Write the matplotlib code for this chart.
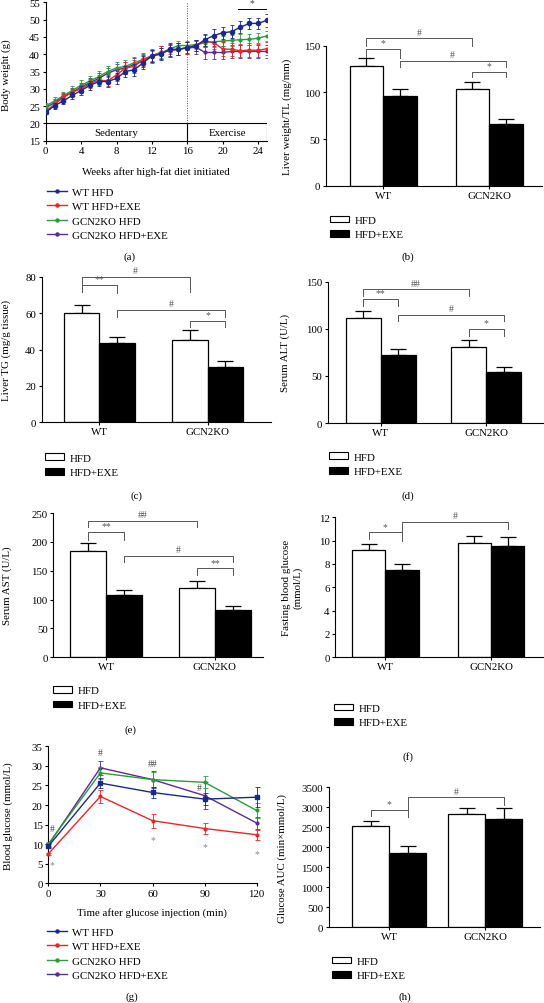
import matplotlib.pyplot as plt
from matplotlib.patches import Patch
from matplotlib.lines import Line2D
import numpy as np

FS = 7.8  # base font size (pt)
plt.rcParams['font.family'] = ['Liberation Serif', 'DejaVu Serif']
plt.rcParams['font.size'] = FS
plt.rcParams['axes.linewidth'] = 0.8

W, H = 544, 1004  # output size in px

# ---------------- data ----------------
series_names = ['WT HFD', 'WT HFD+EXE', 'GCN2KO HFD', 'GCN2KO HFD+EXE']
series_colors = ['#1b2a8a', '#e8262a', '#2e9a3c', '#5b2d8c']
groups = ['WT', 'GCN2KO']
conditions = ['HFD', 'HFD+EXE']

# (a) body weight, weeks 0..25
weeks = list(range(26))
bw_wt_hfd = [23.2, 25.1, 26.5, 28.1, 29.5, 31.0, 32.1, 32.1, 33.0, 35.0, 35.5, 37.5, 39.5,
             40.0, 41.4, 41.4, 41.9, 42.5, 44.2, 45.4, 46.2, 46.5, 47.8, 48.9, 48.9, 49.8]
bw_wt_exe = [23.5, 25.5, 27.5, 29.0, 30.0, 31.5, 32.5, 32.3, 34.0, 36.0, 36.5, 38.5, 39.5,
             40.5, 41.0, 41.5, 41.8, 42.5, 43.8, 43.3, 41.5, 41.4, 41.0, 41.2, 41.1, 41.6]
bw_ko_hfd = [25.0, 26.5, 28.0, 29.5, 31.0, 32.3, 33.5, 35.0, 36.0, 36.5, 37.5, 38.5, 39.5,
             40.3, 41.5, 42.5, 42.5, 42.8, 43.3, 43.6, 43.8, 44.0, 44.2, 44.3, 44.6, 45.3]
bw_ko_exe = [24.5, 26.0, 27.8, 29.0, 30.5, 31.8, 33.0, 34.5, 35.5, 36.0, 37.0, 38.0, 39.5,
             40.5, 41.0, 41.5, 41.8, 42.0, 40.5, 40.5, 40.5, 40.8, 40.8, 40.8, 40.8, 40.8]
bw_wt_hfd_err = [0.6, 0.8, 0.9, 1.0, 1.2, 1.3, 1.4, 1.5, 1.6, 1.7, 1.8, 1.9, 1.8,
                 1.8, 1.8, 1.7, 1.6, 1.6, 1.7, 1.8, 1.8, 1.8, 1.8, 1.7, 1.7, 1.8]
bw_wt_exe_err = [0.7, 0.8, 0.9, 1.0, 1.2, 1.3, 1.5, 1.6, 1.7, 1.8, 1.8, 1.9, 1.9,
                 1.8, 1.8, 1.7, 1.7, 1.7, 1.8, 1.9, 1.9, 1.9, 1.9, 1.9, 1.9, 1.9]
bw_ko_hfd_err = [1.0, 1.2, 1.2, 1.3, 1.4, 1.5, 1.6, 1.6, 1.7, 1.7, 1.7, 1.6, 1.5,
                 1.4, 1.3, 1.2, 1.2, 1.2, 1.3, 1.4, 1.4, 1.5, 1.5, 1.5, 1.5, 1.5]
bw_ko_exe_err = [0.9, 1.0, 1.1, 1.2, 1.3, 1.4, 1.5, 1.6, 1.7, 1.8, 1.8, 1.8, 1.8,
                 1.9, 1.9, 1.8, 1.8, 1.8, 1.9, 1.9, 1.9, 1.9, 1.9, 1.9, 1.9, 1.9]

# (b)-(f),(h) bar data: [WT, GCN2KO]
liver_w_hfd, liver_w_hfd_err = [128.5, 103.5], [8.0, 7.2]
liver_w_exe, liver_w_exe_err = [96.5, 66.5], [7.2, 5.5]
liver_tg_hfd, liver_tg_hfd_err = [59.9, 45.3], [4.6, 5.5]
liver_tg_exe, liver_tg_exe_err = [43.5, 30.6], [3.2, 3.3]
alt_hfd, alt_hfd_err = [111.0, 80.3], [8.2, 7.4]
alt_exe, alt_exe_err = [72.5, 53.8], [6.0, 5.2]
ast_hfd, ast_hfd_err = [184.8, 119.5], [12.7, 13.3]
ast_exe, ast_exe_err = [108.5, 82.0], [8.7, 6.3]
fbg_hfd, fbg_hfd_err = [9.2, 9.77], [0.5, 0.66]
fbg_exe, fbg_exe_err = [7.5, 9.57], [0.5, 0.77]
auc_hfd, auc_hfd_err = [2525, 2825], [142, 150]
auc_exe, auc_exe_err = [1850, 2708], [192, 267]

# (g) glucose tolerance
gtt_time = [0, 30, 60, 90, 120]
gtt_wt_hfd, gtt_wt_hfd_err = [9.45, 25.6, 23.2, 21.5, 22.0], [0.5, 1.2, 1.5, 1.5, 2.6]
gtt_wt_exe, gtt_wt_exe_err = [7.5, 22.2, 16.0, 14.0, 12.4], [0.3, 1.6, 1.8, 1.5, 1.3]
gtt_ko_hfd, gtt_ko_hfd_err = [10.05, 28.2, 26.5, 25.8, 18.6], [0.4, 1.5, 2.0, 1.5, 2.0]
gtt_ko_exe, gtt_ko_exe_err = [9.8, 29.5, 26.5, 22.4, 15.4], [0.5, 1.8, 2.2, 3.5, 1.5]
# significance marks in (g): (time, glucose, text)
gtt_marks = [(30, 33.3, '#'), (60, 30.7, '##'), (87, 24.5, '#'), (2.3, 14.0, '#'),
             (2.3, 4.7, '*'), (60, 11.1, '*'), (90, 9.5, '*'), (120, 7.5, '*')]

fig = plt.figure(figsize=(W / 100, H / 100), dpi=100)


def px_axes(x0, y0, x1, y1):
    # pixel box (top-left origin) -> axes
    return fig.add_axes([x0 / W, 1 - y1 / H, (x1 - x0) / W, (y1 - y0) / H])


def px_text(x, y, s, **kw):
    kw.setdefault('ha', 'center')
    kw.setdefault('va', 'center')
    fig.text(x / W, 1 - y / H, s, **kw)


def style(ax):
    ax.spines['top'].set_visible(False)
    ax.spines['right'].set_visible(False)
    ax.tick_params(direction='out', length=2.5, width=0.8, pad=1.5, labelsize=FS)


def bar_panel(box, centers, bar_px, ylim, yticks, hfd, hfd_err, exe, exe_err,
              ylabel, ylabel_x, brackets, legend_xy, caption_xy, caption):
    ax = px_axes(*box)
    style(ax)
    sep = centers[1] - centers[0]
    w = bar_px / sep
    x = np.arange(len(groups))
    ax.bar(x - w / 2, hfd, w, color='white', edgecolor='black', lw=0.9, zorder=2)
    ax.bar(x + w / 2, exe, w, color='black', edgecolor='black', lw=0.9, zorder=2)
    ax.errorbar(x - w / 2, hfd, yerr=[np.zeros(2), hfd_err], fmt='none', ecolor='black',
                elinewidth=0.9, capsize=6, capthick=0.9, zorder=1)
    ax.errorbar(x + w / 2, exe, yerr=[np.zeros(2), exe_err], fmt='none', ecolor='black',
                elinewidth=0.9, capsize=6, capthick=0.9, zorder=1)
    ax.set_xlim((box[0] - centers[0]) / sep, (box[2] - centers[0]) / sep)
    ax.set_ylim(*ylim)
    ax.set_yticks(yticks)
    ax.set_xticks(x)
    ax.set_xticklabels(groups)
    ax.tick_params(axis='x', length=2)
    # significance brackets: (bar i, bar j, top, leg i bottom, leg j bottom, text)
    xs = [-w / 2, w / 2, 1 - w / 2, 1 + w / 2]
    span = ylim[1] - ylim[0]
    for i, j, top, li, lj, s in brackets:
        ax.plot([xs[i], xs[i], xs[j], xs[j]], [li, top, top, lj], color='#555555', lw=0.7,
                clip_on=False, zorder=3)
        ax.text((xs[i] + xs[j]) / 2, top + span * 0.012, s, ha='center', va='bottom',
                fontsize=7, color='#555555', clip_on=False)
    px_text(ylabel_x, (box[1] + box[3]) / 2, ylabel, rotation=90)
    handles = [Patch(facecolor='white', edgecolor='black', lw=0.8, label=conditions[0]),
               Patch(facecolor='black', edgecolor='black', lw=0.8, label=conditions[1])]
    fig.legend(handles=handles, loc='upper left',
               bbox_to_anchor=(legend_xy[0] / W, 1 - legend_xy[1] / H),
               frameon=False, borderpad=0, borderaxespad=0, handlelength=1.76,
               handleheight=0.56, handletextpad=0.5, labelspacing=0.5, fontsize=FS)
    px_text(caption_xy[0], caption_xy[1], caption)
    return ax


def line_legend(xy):
    handles = [Line2D([], [], color=c, lw=1, marker='o', ms=2.2) for c in series_colors]
    fig.legend(handles, series_names, loc='upper left',
               bbox_to_anchor=(xy[0] / W, 1 - xy[1] / H), frameon=False, borderpad=0,
               borderaxespad=0, handlelength=1.85, handletextpad=0.5, labelspacing=0.46,
               fontsize=FS)


# ---------------- (a) body weight ----------------
ax = px_axes(45.7, 3.3, 267, 141.7)
style(ax)
bw_series = [bw_wt_hfd, bw_wt_exe, bw_ko_hfd, bw_ko_exe]
bw_errs = [bw_wt_hfd_err, bw_wt_exe_err, bw_ko_hfd_err, bw_ko_exe_err]
for k in [3, 2, 1, 0]:
    ax.errorbar(weeks, bw_series[k], yerr=bw_errs[k], color=series_colors[k], lw=1,
                marker='o', ms=3 if k == 0 else 2, elinewidth=0.6, capsize=1.5,
                capthick=0.6, zorder=5 - k)
ax.set_xlim(0, 25)
ax.set_ylim(15, 55)
ax.set_xticks(range(0, 25, 4))
ax.set_yticks(range(15, 56, 5))
# sedentary / exercise box
ax.plot([0, 25], [20, 20], color='black', lw=0.8)
ax.plot([16, 16], [15, 20], color='black', lw=0.8)
ax.plot([25, 25], [15, 20], color='black', lw=0.8)
ax.plot([16, 16], [20, 55], color='#555555', lw=0.7, ls=(0, (1, 1.5)))
ax.text(8, 17.5, 'Sedentary', ha='center', va='center', fontsize=FS)
ax.text(20.5, 17.5, 'Exercise', ha='center', va='center', fontsize=FS)
ax.plot([21.7, 25], [53.2, 53.2], color='black', lw=0.7)
ax.text(23.3, 53.6, '*', ha='center', va='bottom', fontsize=7, color='#444444')
px_text(6, 75, 'Body weight (g)', rotation=90)
px_text(156, 171.7, 'Weeks after high-fat diet initiated')
line_legend((46.7, 188))
px_text(130, 257, '(a)')

# ---------------- (b) liver weight ----------------
bar_panel((326, 46.7, 542, 186.7), (383, 489), 33.5, (0, 150), [0, 50, 100, 150],
          liver_w_hfd, liver_w_hfd_err, liver_w_exe, liver_w_exe_err,
          'Liver weight/TL (mg/mm)', 287,
          [(0, 2, 158, 150, 150, '#'), (0, 1, 147, 138, 137, '*'),
           (1, 3, 134, 127, 127, '#'), (2, 3, 122, 116, 116, '*')],
          (330, 216.5), (408, 257), '(b)')

# ---------------- (c) liver TG ----------------
bar_panel((41.7, 277.7, 271, 423.3), (99.3, 207.7), 35.5, (0, 80), [0, 20, 40, 60, 80],
          liver_tg_hfd, liver_tg_hfd_err, liver_tg_exe, liver_tg_exe_err,
          'Liver TG (mg/g tissue)', 6,
          [(0, 2, 79.7, 71.8, 71.8, '#'), (0, 1, 75.5, 71.5, 70.9, '**'),
           (1, 3, 61.7, 57.7, 57.7, '#'), (2, 3, 55.9, 52.2, 52.2, '*')],
          (45, 454.5), (136, 496), '(c)')

# ---------------- (d) serum ALT ----------------
bar_panel((328, 282.7, 543.6, 424), (380.7, 486.3), 35, (0, 150), [0, 50, 100, 150],
          alt_hfd, alt_hfd_err, alt_exe, alt_exe_err,
          'Serum ALT (U/L)', 285,
          [(0, 2, 142, 135, 135, '##'), (0, 1, 131.6, 124.5, 124.5, '**'),
           (1, 3, 114.6, 108.6, 108.6, '#'), (2, 3, 99.8, 92, 92, '*')],
          (328.7, 453.5), (408, 496), '(d)')

# ---------------- (e) serum AST ----------------
bar_panel((53.3, 514, 263, 658.3), (106, 215), 35.7, (0, 250), range(0, 251, 50),
          ast_hfd, ast_hfd_err, ast_exe, ast_exe_err,
          'Serum AST (U/L)', 6.7,
          [(0, 2, 236.7, 225, 225, '##'), (0, 1, 216.5, 203.8, 203.8, '**'),
           (1, 3, 176, 164.5, 164.5, '#'), (2, 3, 154, 142.6, 142.6, '**')],
          (53, 687), (130, 730), '(e)')

# ---------------- (f) fasting glucose ----------------
bar_panel((335.3, 518.3, 542.7, 658.3), (385.3, 491), 33.3, (0, 12), range(0, 13, 2),
          fbg_hfd, fbg_hfd_err, fbg_exe, fbg_exe_err,
          'Fasting blood glucose\n(mmol/L)', 292,
          [(0, 1, 10.71, 10.14, 10.0, '*'), (1, 3, 11.63, 10.71, 11.0, '#')],
          (333.7, 704.5), (408, 757), '(f)')

# ---------------- (g) glucose tolerance ----------------
ax = px_axes(48.3, 747.3, 256.7, 884.3)
style(ax)
gtt_series = [gtt_wt_hfd, gtt_wt_exe, gtt_ko_hfd, gtt_ko_exe]
gtt_errs = [gtt_wt_hfd_err, gtt_wt_exe_err, gtt_ko_hfd_err, gtt_ko_exe_err]
for k in [3, 2, 1, 0]:
    ax.errorbar(gtt_time, gtt_series[k], yerr=gtt_errs[k], color=series_colors[k], lw=1,
                marker='s' if k == 0 else 'o', ms=2.5 if k == 0 else 2, elinewidth=0.6,
                capsize=1.8, capthick=0.6, clip_on=False, zorder=5 - k)
for t, g, s in gtt_marks:
    ax.text(t, g, s, ha='center', va='center', fontsize=7,
            color='#444444' if s.startswith('#') else '#888888')
ax.set_xlim(0, 120)
ax.set_ylim(0, 35)
ax.set_xticks(gtt_time)
ax.set_yticks(range(0, 36, 5))
px_text(8, (747.3 + 884.3) / 2, 'Blood glucose (mmol/L)', rotation=90)
px_text(152, 913.3, 'Time after glucose injection (min)')
line_legend((46.7, 928))
px_text(132, 997, '(g)')

# ---------------- (h) glucose AUC ----------------
bar_panel((328.7, 788.3, 540, 928.3), (389.3, 485.3), 37, (0, 3500), range(0, 3501, 500),
          auc_hfd, auc_hfd_err, auc_exe, auc_exe_err,
          'Glucose AUC (min×mmol/L)', 282,
          [(0, 1, 2933, 2792, 2750, '*'), (1, 3, 3250, 2933, 3058, '#')],
          (332, 957.5), (405, 997), '(h)')

plt.savefig('out.png', dpi=100)
